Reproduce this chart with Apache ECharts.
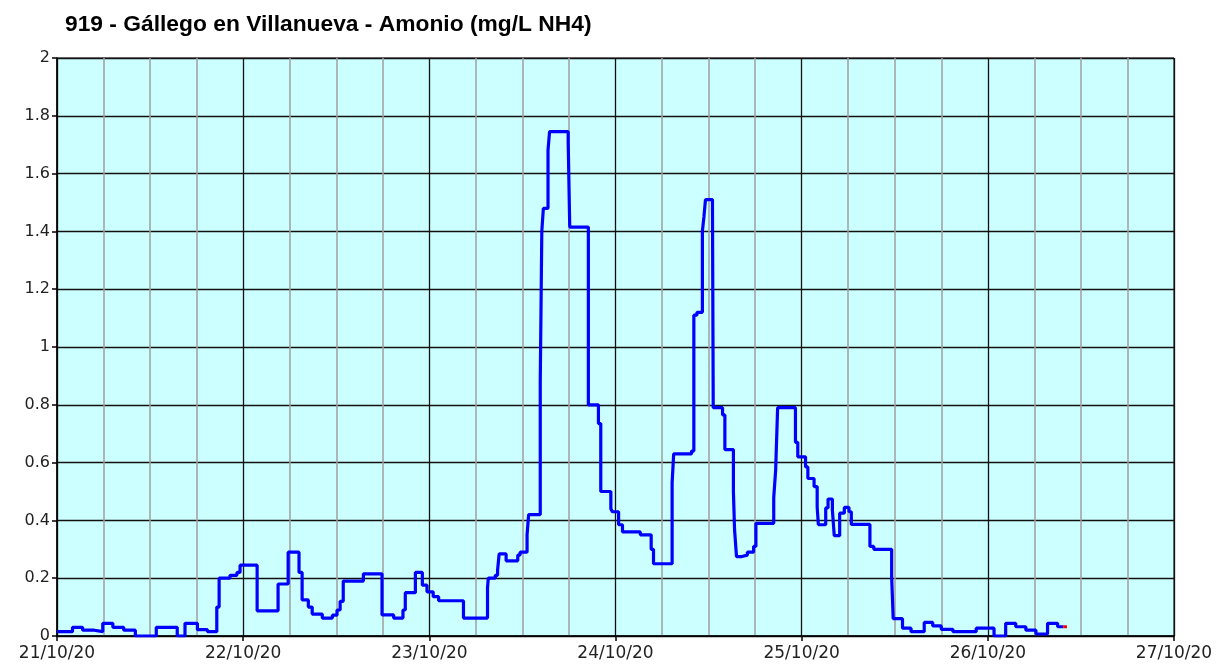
<!DOCTYPE html>
<html>
<head>
<meta charset="utf-8">
<script src="https://cdn.jsdelivr.net/npm/echarts@6/dist/echarts.min.js"></script>
<style>
html,body{margin:0;padding:0;background:#fff;}
#chart{width:1216px;height:671px;}
</style>
</head>
<body>
<div id="chart"></div>
<script>
// Hours since 21/10/20 00:00 at which the value changes (step series)
var hours = [0,2,3.3,4.8,5.9,7.2,8.6,10.1,12.8,15.5,16.5,18.1,19.4,20.6,20.9,22.3,23.2,23.6,
  25.8,28.5,29.8,31.2,31.6,32.4,32.9,34.2,35.5,36.1,36.5,36.9,39.5,41.9,43.4,44.6,44.9,46.2,47.1,47.7,
  48.5,49.2,52.4,55.5,55.6,56.5,56.8,57.0,57.9,59.4,59.7,60.6,60.8,62.3,62.5,62.7,63.3,63.5,65.9,66.1,
  68.5,69.8,70.1,71.4,71.6,72.4,72.9,75.2,76.6,76.9,79.3,79.5,81.8,82.1,82.5,83.2,83.4,83.6,84.5,84.6,
  85.8,86.1,87.2,87.35,87.6,88.3,89.0,89.8,90.1,92.4,92.65,92.9,95.2,95.5,96.5,96.8,97.6,98.0,98.15,
  99.1,99.4,99.96,100.2,100.9,101.5,102.1,102.4,104.8,105.3,107.6,107.8,109.0,110.1,111.8,112.9,114.0,
  115.5,118.5,120.8,122.3,123.6,124.9,126.2,127.7,129.0,129.7];
var values = [0.015,0.03,0.02,0.015,0.044,0.03,0.02,0.0,0.03,0.0,0.044,0.022,0.015,0.10,0.20,0.21,0.22,0.245,
  0.087,0.18,0.29,0.22,0.125,0.10,0.076,0.062,0.072,0.09,0.12,0.19,0.215,0.073,0.062,0.09,0.15,0.22,0.176,0.153,
  0.136,0.122,0.062,0.166,0.20,0.21,0.228,0.284,0.26,0.28,0.29,0.35,0.42,0.88,1.40,1.48,1.68,1.745,1.71,1.415,
  0.80,0.735,0.50,0.44,0.43,0.385,0.36,0.35,0.30,0.25,0.53,0.63,0.64,1.11,1.12,1.40,1.45,1.51,1.50,0.79,
  0.765,0.645,0.50,0.367,0.275,0.28,0.29,0.31,0.39,0.48,0.575,0.79,0.67,0.62,0.585,0.545,0.517,0.447,0.385,
  0.443,0.474,0.436,0.347,0.425,0.445,0.43,0.386,0.31,0.30,0.205,0.06,0.027,0.015,0.047,0.035,0.023,
  0.015,0.027,0.0,0.044,0.032,0.02,0.007,0.044,0.032,0.032];
// last (most recent) reading shown in red
var lastHours = [129.7, 130.2];
var lastValues = [0.032, 0.032];
var tickLabels = ['21/10/20','22/10/20','23/10/20','24/10/20','25/10/20','26/10/20','27/10/20'];
var titleText = '919 - Gállego en Villanueva - Amonio (mg/L NH4)';

var mainData = hours.map(function(h,i){return [h, values[i]];});
var lastData = lastHours.map(function(h,i){return [h, lastValues[i]];});

var labelFont = '"DejaVu Sans", Verdana, sans-serif';
var chart = echarts.init(document.getElementById('chart'), null, {renderer:'canvas'});
chart.setOption({
  animation:false,
  backgroundColor:'#ffffff',
  title:{
    text:titleText, left:60, top:8,
    textStyle:{fontFamily:'"Liberation Sans", Arial, sans-serif', fontWeight:'bold', fontSize:22.8, color:'#000'}
  },
  grid:{left:57, right:42, top:58, bottom:35, show:true, backgroundColor:'#ccffff', borderColor:'#000', borderWidth:1},
  xAxis:{
    type:'value', min:0, max:144, interval:24,
    axisLine:{show:true, onZero:false, lineStyle:{color:'#000', width:1.5}},
    axisTick:{show:true, length:5, lineStyle:{color:'#000', width:1.5}},
    axisLabel:{margin:9, fontFamily:labelFont, fontSize:17, color:'#222',
      formatter:function(v){return tickLabels[Math.round(v/24)] || '';}},
    splitLine:{show:true, lineStyle:{color:'#111', width:1.3}},
    minorTick:{show:false, splitNumber:4},
    minorSplitLine:{show:true, lineStyle:{color:'#a0a0a0', width:1.5}}
  },
  yAxis:{
    type:'value', min:0, max:2, interval:0.2,
    axisLine:{show:true, onZero:false, lineStyle:{color:'#000', width:1.5}},
    axisTick:{show:true, length:5, lineStyle:{color:'#000', width:1.5}},
    axisLabel:{margin:7, fontFamily:labelFont, fontSize:16, color:'#222',
      formatter:function(v){return String(Math.round(v*10)/10);}},
    splitLine:{show:true, lineStyle:{color:'#111', width:1.3}}
  },
  series:[
    {type:'line', data:mainData, step:'end', showSymbol:false, symbol:'none',
     lineStyle:{color:'#0000ff', width:3.2}, z:3},
    {type:'line', data:lastData, showSymbol:false, symbol:'none',
     lineStyle:{color:'#ff0000', width:3.2}, z:4}
  ]
});
</script>
</body>
</html>
